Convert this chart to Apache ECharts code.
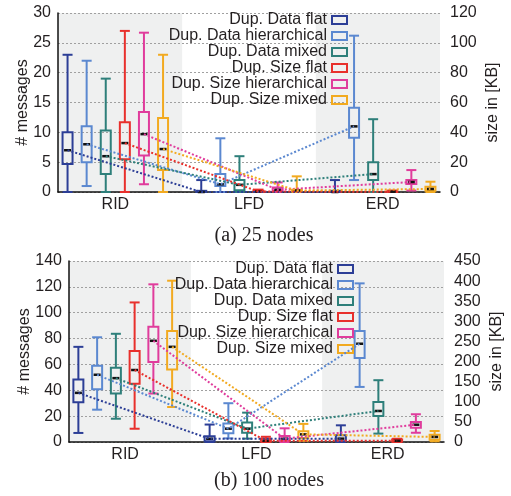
<!DOCTYPE html>
<html>
<head>
<meta charset="utf-8">
<script src="https://cdn.jsdelivr.net/npm/echarts@6/dist/echarts.min.js"></script>
<style>
  html, body { margin: 0; padding: 0; background: #fff; }
  #chart { width: 511px; height: 496px; }
</style>
</head>
<body>
<div id="chart"></div>
<script>
const groups = ['RID', 'LFD', 'ERD'];
const seriesNames = [
  'Dup. Data flat', 'Dup. Data hierarchical', 'Dup. Data mixed',
  'Dup. Size flat', 'Dup. Size hierarchical', 'Dup. Size mixed'
];
const colors = ['#2c3e96', '#5b88d0', '#2e7f7a', '#e8302c', '#e03c9c', '#f2aa20'];

// axis ranges: [max, step]
const msgAxis25 = [30, 5];
const kbAxis25 = [120, 20];
const msgAxis100 = [140, 20];
const kbAxis100 = [450, 50];

// 25 nodes, per group RID/LFD/ERD: [min, Q1, median, Q3, max]
// Data series in # messages, Size series in KB
const dataFlat25 = [[0, 4.7, 7, 10, 23], [0, 0, 0, 0.2, 2], [0, 0, 0, 0.2, 2]];
const dataHier25 = [[1, 5, 8, 11, 22], [0, 1, 1.3, 3, 9], [2, 9.1, 11, 14.1, 26.2]];
const dataMixed25 = [[0, 3, 6, 10.3, 19], [0, 0.3, 1.2, 2, 6], [0, 2, 3, 5, 12.2]];
const sizeFlat25 = [[0, 22, 32.8, 46.8, 108], [0, 0, 0.3, 0.8, 1.6], [0, 0, 0.2, 0.5, 1]];
const sizeHier25 = [[5.2, 24.4, 38.8, 53.6, 106.8], [0, 0.8, 1.5, 3, 6.4], [1, 5.3, 6.7, 8, 14.7]];
const sizeMixed25 = [[0, 14.8, 28.8, 49.6, 92], [0, 0.3, 1, 1.5, 10.5], [0, 0.9, 2, 3.5, 6.9]];

// 100 nodes
const dataFlat100 = [[7, 30.7, 38, 48.3, 73.6], [0, 0.5, 2.5, 4.5, 13.5], [0, 0.5, 2.6, 5.2, 12.9]];
const dataHier100 = [[25, 40.8, 52, 59, 81], [2.8, 6.7, 10.3, 14.4, 30], [42.6, 65, 76, 85.8, 122.7]];
const dataMixed100 = [[18, 37.5, 49.4, 57.4, 83.7], [2.6, 7.2, 10.3, 15, 22.7], [6.5, 20.2, 24, 31, 47.8]];
const sizeFlat100 = [[33, 145, 179, 226, 347], [0, 1, 3, 8, 13], [0, 1, 3, 6, 8]];
const sizeHier100 = [[120.5, 199, 251.6, 286.5, 392], [0, 2.5, 8.3, 15, 34], [23, 35.7, 43, 50, 69]];
const sizeMixed100 = [[87, 180, 236.6, 275.7, 401], [3, 10, 19, 27, 45], [1.7, 5.8, 12.5, 18.3, 27.4]];

// shaded slot ranges (RID and ERD)
const bands = [[-1, 6], [13, 20]];

const TEXT = '#231f20';
const FONT = 'Liberation Sans';
const SLOTS = 20; // 3 groups x 6 boxes + 2 gaps

const chart = echarts.init(document.getElementById('chart'));

function boxRenderer(color) {
  return function (params, api) {
    const x = api.value(0);
    const p = [1, 2, 3, 4, 5].map(d => api.coord([x, api.value(d)]));
    const cx = p[0][0];
    const hw = 5;
    const st = { stroke: color, lineWidth: 2, fill: 'none' };
    return {
      type: 'group',
      children: [
        { type: 'line', shape: { x1: cx, y1: p[0][1], x2: cx, y2: p[1][1] }, style: st },
        { type: 'line', shape: { x1: cx, y1: p[3][1], x2: cx, y2: p[4][1] }, style: st },
        { type: 'line', shape: { x1: cx - hw, y1: p[0][1], x2: cx + hw, y2: p[0][1] }, style: st },
        { type: 'line', shape: { x1: cx - hw, y1: p[4][1], x2: cx + hw, y2: p[4][1] }, style: st },
        { type: 'rect', shape: { x: cx - hw, y: p[3][1], width: hw * 2, height: p[1][1] - p[3][1] }, style: st },
        { type: 'line', shape: { x1: cx - 3.5, y1: p[2][1], x2: cx + 3.5, y2: p[2][1] }, style: { stroke: '#111', lineWidth: 2.5 } }
      ]
    };
  };
}

function bandRenderer(params, api) {
  const cs = params.coordSys;
  const a = api.coord([api.value(0), 0]);
  const b = api.coord([api.value(1), 0]);
  const x0 = Math.max(cs.x, a[0]);
  const x1 = Math.min(cs.x + cs.width, b[0]);
  return {
    type: 'rect',
    shape: { x: x0, y: cs.y, width: x1 - x0, height: cs.height },
    style: { fill: '#eff0f0' }
  };
}

function panelSeries(g, arrays) {
  const out = [{
    type: 'custom',
    name: 'band',
    xAxisIndex: g,
    yAxisIndex: g * 2,
    data: bands,
    renderItem: bandRenderer,
    silent: true,
    z: -10
  }];
  arrays.forEach((arr, s) => {
    const yIdx = g * 2 + (s >= 3 ? 1 : 0);
    out.push({
      type: 'custom',
      name: seriesNames[s],
      xAxisIndex: g,
      yAxisIndex: yIdx,
      itemStyle: { color: colors[s] },
      data: arr.map((st, gi) => [gi * 7 + s].concat(st)),
      encode: { x: 0, y: [1, 2, 3, 4, 5] },
      renderItem: boxRenderer(colors[s]),
      z: 3
    });
    out.push({
      type: 'line',
      name: seriesNames[s],
      xAxisIndex: g,
      yAxisIndex: yIdx,
      data: arr.map((st, gi) => [gi * 7 + s, st[2]]),
      symbol: 'none',
      lineStyle: { color: colors[s], width: 2, type: [2, 2] },
      itemStyle: { color: colors[s] },
      silent: true,
      z: 4
    });
  });
  return out;
}

function xAxisFor(g, shift) {
  return {
    type: 'category',
    gridIndex: g,
    data: Array.from({ length: SLOTS }, (_, i) => String(i)),
    axisLine: { lineStyle: { color: '#111', width: 1.5 } },
    axisTick: {
      alignWithLabel: true,
      interval: (i) => i % 7 !== 6,
      length: 4,
      lineStyle: { color: '#555' }
    },
    axisLabel: {
      interval: 0,
      formatter: (v, i) => (i % 7 === 3 ? groups[Math.floor(i / 7)] : ''),
      padding: [0, shift, 0, 0],
      fontSize: 16,
      fontFamily: FONT,
      color: TEXT,
      margin: 5
    },
    splitLine: { show: false }
  };
}

function leftAxis(g, ax, gap) {
  return {
    type: 'value',
    gridIndex: g,
    min: 0,
    max: ax[0],
    interval: ax[1],
    name: '# messages',
    nameLocation: 'middle',
    nameGap: gap,
    nameRotate: 90,
    nameMoveOverlap: false,
    nameTextStyle: { fontSize: 16, fontFamily: FONT, color: TEXT },
    axisLine: { show: true, lineStyle: { color: '#111', width: 1.5 } },
    axisTick: { show: false },
    axisLabel: { fontSize: 16, fontFamily: FONT, color: TEXT, margin: 7 },
    splitLine: { lineStyle: { color: '#a0a0a0', type: [2, 2], width: 1 } }
  };
}

function rightAxis(g, ax) {
  return {
    type: 'value',
    gridIndex: g,
    position: 'right',
    min: 0,
    max: ax[0],
    interval: ax[1],
    name: 'size in [KB]',
    nameLocation: 'middle',
    nameGap: 45,
    nameRotate: 90,
    nameMoveOverlap: false,
    nameTextStyle: { fontSize: 16, fontFamily: FONT, color: TEXT },
    axisLine: { show: false },
    axisTick: { show: false },
    axisLabel: { fontSize: 16, fontFamily: FONT, color: TEXT, margin: 10 },
    splitLine: { show: false }
  };
}

function legendFor(right, top, lh) {
  return {
    orient: 'vertical',
    align: 'right',
    right: right,
    top: top,
    padding: 0,
    itemGap: 0,
    itemWidth: 15,
    itemHeight: 8,
    selectedMode: false,
    textStyle: { fontSize: 16, fontFamily: FONT, color: TEXT, lineHeight: lh },
    data: seriesNames.map((n, i) => ({
      name: n,
      icon: 'rect',
      itemStyle: { color: 'rgba(0,0,0,0)', borderColor: colors[i], borderWidth: 2 }
    }))
  };
}

const option = {
  animation: false,
  backgroundColor: '#fff',
  title: [
    { text: '(a) 25 nodes', left: 264, top: 226, textAlign: 'center', padding: 0,
      textStyle: { fontFamily: 'Liberation Serif', fontSize: 20, fontWeight: 'normal', color: TEXT } },
    { text: '(b) 100 nodes', left: 269, top: 471, textAlign: 'center', padding: 0,
      textStyle: { fontFamily: 'Liberation Serif', fontSize: 20, fontWeight: 'normal', color: TEXT } }
  ],
  legend: [legendFor(163, 12, 14.3), legendFor(157, 261, 14.6)],
  grid: [
    { left: 58, right: 71, top: 13, height: 179, containLabel: false, outerBoundsMode: 'none' },
    { left: 69, right: 67, top: 261, height: 181, containLabel: false, outerBoundsMode: 'none' }
  ],
  xAxis: [xAxisFor(0, 19), xAxisFor(1, 19)],
  yAxis: [
    leftAxis(0, msgAxis25, 27), rightAxis(0, kbAxis25),
    leftAxis(1, msgAxis100, 36), rightAxis(1, kbAxis100)
  ],
  series: [].concat(
    panelSeries(0, [dataFlat25, dataHier25, dataMixed25, sizeFlat25, sizeHier25, sizeMixed25]),
    panelSeries(1, [dataFlat100, dataHier100, dataMixed100, sizeFlat100, sizeHier100, sizeMixed100])
  )
};

chart.setOption(option);
</script>
</body>
</html>
